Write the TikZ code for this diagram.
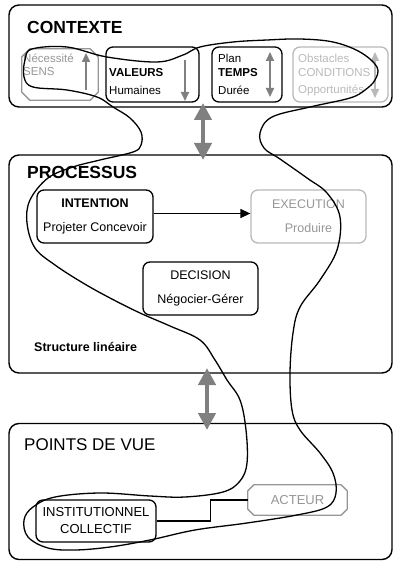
\documentclass[tikz,border=0pt]{standalone}
\usepackage{fontspec}
\setmainfont{Liberation Sans}
\usepackage{xcolor}
\usepackage{tikz}
\usetikzlibrary{positioning,arrows.meta}
\definecolor{boxgray}{RGB}{150,150,150}
\definecolor{palegray}{RGB}{185,185,185}
\definecolor{arrowgray}{RGB}{128,128,128}
% octogone autour d'un noeud (#1 = noeud, #2 = coupe)
\newcommand{\bevelbox}[2]{%
  \draw[line width=1.3pt, boxgray, line join=round]
    ([xshift=#2]#1.north west) -- ([xshift=-#2]#1.north east) -- ([yshift=-#2]#1.north east)
    -- ([yshift=#2]#1.south east) -- ([xshift=-#2]#1.south east) -- ([xshift=#2]#1.south west)
    -- ([yshift=#2]#1.south west) -- ([yshift=-#2]#1.north west) -- cycle;}

\begin{document}
\begin{tikzpicture}[x=1pt, y=-1pt,
  panel/.style={draw, line width=1.4pt, rounded corners=10pt, minimum width=383pt},
  box/.style={draw, line width=1.3pt, rounded corners=7pt, inner sep=2pt, align=center},
  cutbox/.style={inner sep=2pt},
  title/.style={anchor=west, inner sep=0pt, font=\fontsize{17.5}{20}\selectfont},
  ctx/.style={anchor=west, inner sep=0pt, font=\fontsize{11.5}{13}\selectfont},
  bigarrow/.style={{Triangle[length=17pt,width=17pt]}-{Triangle[length=17pt,width=17pt]}, line width=4.5pt, arrowgray},
  smallarrow/.style={-{Triangle[length=9pt,width=8pt]}, line width=1.8pt, arrowgray}]
\useasboundingbox (0,0) rectangle (394,561);

% panels
\node[panel, minimum height=102pt] (contexte) at (200.5,56) {};
\node[panel, minimum height=218pt] (processus) at (200.5,264) {};
\node[panel, minimum height=136pt] (pointsvue) at (200.5,491.5) {};

\node[title, font=\fontsize{17.5}{20}\selectfont\bfseries] at (27,27) {CONTEXTE};
\node[title, font=\fontsize{17.5}{20}\selectfont\bfseries] at (27,172) {PROCESSUS};
\node[title, font=\fontsize{17}{20}\selectfont] at (24,445) {POINTS DE VUE};

% contexte
\node[cutbox, minimum width=76pt, minimum height=51pt] (sens) at (60,74.5) {};
\bevelbox{sens}{8pt}
\node[box, minimum width=93pt, minimum height=55pt] (valeurs) at (152.5,74.5) {};
\node[box, minimum width=70pt, minimum height=55pt] (temps) at (247,74.5) {};
\node[box, draw=palegray, minimum width=95pt, minimum height=55pt] (conditions) at (340.5,74.5) {};

\node[ctx, boxgray] at (23,58) {Nécessité};
\node[ctx, boxgray] at (23,72) {SENS};
\node[ctx, font=\fontsize{11.5}{13}\selectfont\bfseries] at (109,73) {VALEURS};
\node[ctx] at (109,90) {Humaines};
\node[ctx] at (218,58) {Plan};
\node[ctx, font=\fontsize{11.5}{13}\selectfont\bfseries] at (218,73) {TEMPS};
\node[ctx] at (218,90) {Durée};
\node[ctx, palegray] at (298,58) {Obstacles};
\node[ctx, palegray] at (298,73) {CONDITIONS};
\node[ctx, palegray] at (298,90) {Opportunités};

\coordinate (s1) at (86,90);  \coordinate (s2) at (86,53);
\coordinate (v1) at (185,60); \coordinate (v2) at (185,101);
\coordinate (t1) at (270,52); \coordinate (t2) at (270,97);
\coordinate (c1) at (375,52); \coordinate (c2) at (375,98);
\draw[smallarrow] (s1) -- (s2);
\draw[smallarrow] (v1) -- (v2);
\draw[smallarrow, {Triangle[length=9pt,width=8pt]}-{Triangle[length=9pt,width=8pt]}] (t1) -- (t2);
\draw[smallarrow, palegray, {Triangle[length=9pt,width=8pt]}-{Triangle[length=9pt,width=8pt]}] (c1) -- (c2);

% processus
\node[box, minimum width=116pt, minimum height=53pt, font=\fontsize{12.5}{24}\selectfont] (intention) at (95,216.5) {\textbf{INTENTION}\\Projeter Concevoir};
\node[box, draw=palegray, text=boxgray, minimum width=115pt, minimum height=53pt, font=\fontsize{12.5}{24}\selectfont] (execution) at (308.5,216.5) {EXECUTION\\Produire};
\node[box, minimum width=115pt, minimum height=53pt, font=\fontsize{12.5}{24}\selectfont] (decision) at (200.5,288.5) {DECISION\\Négocier-Gérer};
\node[anchor=west, inner sep=0pt, font=\fontsize{12.5}{14}\selectfont\bfseries] at (34,347) {Structure linéaire};

\draw[-{Triangle[length=10pt,width=9pt]}, line width=1.3pt] ([yshift=3pt]intention.east) -- ([yshift=3pt]execution.west);

% points de vue
\node[box, minimum width=120pt, minimum height=42pt, font=\fontsize{13}{17}\selectfont] (institutionnel) at (96,521) {INSTITUTIONNEL\\COLLECTIF};
\node[cutbox, text=boxgray, minimum width=99pt, minimum height=30pt, font=\fontsize{13}{15}\selectfont] (acteur) at (297.5,500) {ACTEUR};
\bevelbox{acteur}{6pt}
\draw[line width=1.3pt] (institutionnel.east) -- ++(54,0) |- (acteur.west);

% liens entre niveaux
\coordinate (a1) at (203,103); \coordinate (a2) at (203,160);
\coordinate (b1) at (207,368); \coordinate (b2) at (207,430);
\draw[bigarrow] (a1) -- (a2);
\draw[bigarrow] (b1) -- (b2);

% trace a main levee
\draw[line width=1.3pt] plot[smooth cycle, tension=0.6] coordinates {
  (25,60) (32,49) (67,47) (107,57) (157,62) (183,55) (200,47) (233,42)
  (267,40) (300,39) (333,42) (360,52) (377,67) (375,80) (365,90) (350,98)
  (310,107) (272,117) (260,133) (264,148) (280,159) (307,178) (327,193)
  (340,217) (337,250) (320,280) (300,307) (293,333) (290,373) (292,410)
  (300,430) (320,453) (333,473) (336,493) (327,507) (297,515) (247,523)
  (195,530) (150,540) (110,547) (75,550) (48,548) (28,537) (24,520)
  (33,507) (55,497) (100,493) (150,496) (185,497) (223,492) (240,481)
  (247,463) (246,430) (240,400) (227,380) (215,360) (200,340) (170,326)
  (140,313) (110,298) (83,283) (55,265) (35,248) (27,223) (30,200)
  (48,178) (73,167) (100,160) (133,152) (141,145) (141,132) (130,118)
  (113,107) (97,97) (67,90) (33,87) (24,77)};
\end{tikzpicture}
\end{document}
